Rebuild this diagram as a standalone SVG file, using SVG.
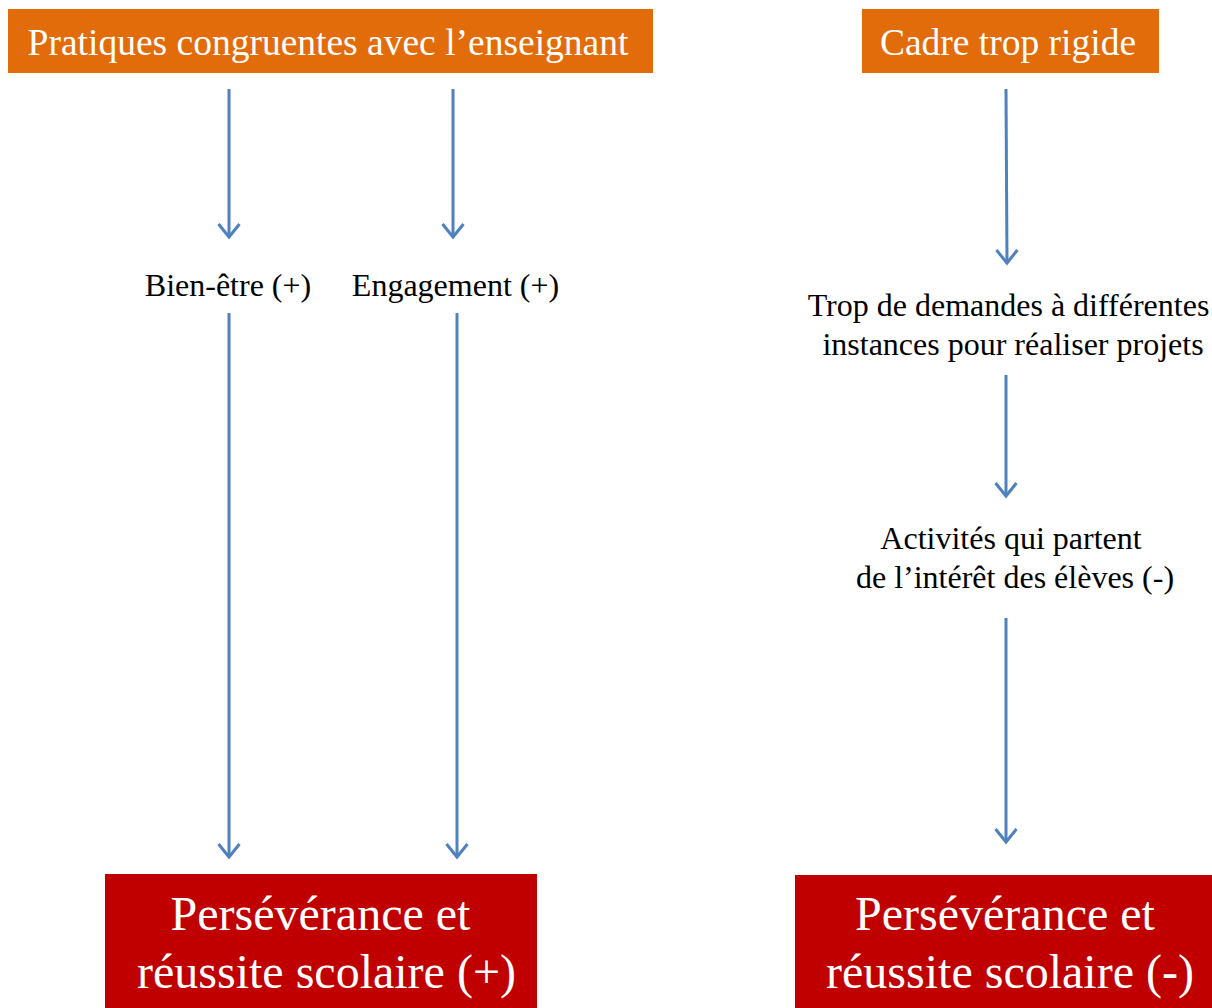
<svg xmlns="http://www.w3.org/2000/svg" width="1212" height="1008" viewBox="0 0 1212 1008">
<style>
.orange{fill:#E36C0A}
.red{fill:#C00000}
.t{font-family:"Liberation Serif","Times New Roman",serif;text-anchor:middle}
.hw{fill:#FFFFFF;font-size:37.5px}
.bw{fill:#FFFFFF;font-size:48px}
.lb{fill:#000000;font-size:32px}
.c{stroke:#4F81BD;stroke-width:3;fill:none;marker-end:url(#ah)}
</style>
<defs>
<marker id="ah" markerUnits="userSpaceOnUse" viewBox="-16 -13 18 26" refX="0" refY="0" markerWidth="18" markerHeight="26" orient="auto" overflow="visible">
<path d="M-13,-10.5 L0,0 L-13,10.5" fill="none" stroke="#4F81BD" stroke-width="3"/>
</marker>
</defs>
<rect width="1212" height="1008" fill="#FFFFFF"/>
<g id="connectors">
<line class="c" x1="229" y1="89" x2="229" y2="237"/>
<line class="c" x1="453" y1="89" x2="453" y2="237"/>
<line class="c" x1="229" y1="313" x2="229" y2="857"/>
<line class="c" x1="457" y1="313" x2="457" y2="857"/>
<line class="c" x1="1006" y1="89" x2="1007" y2="263"/>
<line class="c" x1="1006" y1="375" x2="1006" y2="496"/>
<line class="c" x1="1006" y1="618" x2="1006" y2="842"/>
</g>
<g id="n-pratiques">
<rect class="orange" x="8" y="9" width="645" height="64"/>
<text class="t hw" x="328" y="55">Pratiques congruentes avec l’enseignant</text>
</g>
<g id="n-cadre">
<rect class="orange" x="862" y="9" width="297" height="64"/>
<text class="t hw" x="1008" y="55">Cadre trop rigide</text>
</g>
<g id="n-bienetre">
<text class="t lb" x="228" y="296">Bien-être (+)</text>
</g>
<g id="n-engagement">
<text class="t lb" x="455.5" y="296">Engagement (+)</text>
</g>
<g id="n-demandes">
<text class="t lb" x="1008.5" y="316">Trop de demandes à différentes</text>
<text class="t lb" x="1013" y="355">instances pour réaliser projets</text>
</g>
<g id="n-activites">
<text class="t lb" x="1011" y="549">Activités qui partent</text>
<text class="t lb" x="1015" y="588">de l’intérêt des élèves (-)</text>
</g>
<g id="n-perseverance-plus">
<rect class="red" x="105" y="874" width="432" height="134"/>
<text class="t bw" x="320.5" y="930">Persévérance et</text>
<text class="t bw" x="326.5" y="988">réussite scolaire (+)</text>
</g>
<g id="n-perseverance-minus">
<rect class="red" x="795" y="875" width="417" height="133"/>
<text class="t bw" x="1005" y="930">Persévérance et</text>
<text class="t bw" x="1010" y="988">réussite scolaire (-)</text>
</g>
</svg>
